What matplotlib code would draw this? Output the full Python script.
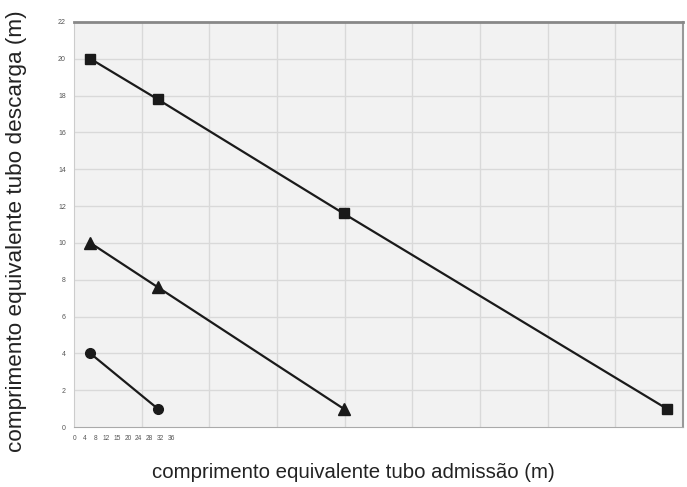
import numpy as np
import matplotlib.pyplot as plt

plt.rcParams['font.family'] = ['Liberation Sans', 'DejaVu Sans']

# data
x_quad = [6, 31, 100, 220]
y_quad = [20, 17.8, 11.6, 1]
x_tri = [6, 31, 100]
y_tri = [10, 7.6, 1]
x_circ = [6, 31]
y_circ = [4, 1]

xtick_pos = [0, 4, 8, 12, 16, 20, 24, 28, 32, 36]
xtick_lab = ['0', '4', '8', '12', '15', '20', '24', '28', '32', '36']
yticks = np.arange(0, 23, 2)

fig = plt.figure(figsize=(6.87, 4.87), dpi=100)
ax = fig.add_axes([0.108, 0.123, 0.886, 0.832])
ax.set_facecolor('#f2f2f2')

xmax = 226
for gx in np.linspace(0, xmax, 10)[1:-1]:
    ax.axvline(gx, color='#d9d9d9', lw=1, zorder=0)
for gy in yticks[1:-1]:
    ax.axhline(gy, color='#d9d9d9', lw=1, zorder=0)

kw = dict(color='#1a1a1a', lw=1.6, zorder=3)
ax.plot(x_quad, y_quad, marker='s', ms=7, **kw)
ax.plot(x_tri, y_tri, marker='^', ms=8, **kw)
ax.plot(x_circ, y_circ, marker='o', ms=7, **kw)

ax.set_xlim(0, xmax)
ax.set_ylim(0, 22)
ax.set_xticks(xtick_pos)
ax.set_xticklabels(xtick_lab, fontsize=4.8, color='#555555')
ax.set_yticks(yticks)
ax.set_yticklabels([str(v) for v in yticks], fontsize=5, color='#555555')
ax.tick_params(length=0, pad=6)

ax.spines['top'].set_color('#888888')
ax.spines['top'].set_linewidth(2)
ax.spines['right'].set_color('#999999')
ax.spines['right'].set_linewidth(1.5)
ax.spines['bottom'].set_color('#aaaaaa')
ax.spines['left'].set_color('#cccccc')

fig.text(0.514, 0.029, 'comprimento equivalente tubo admissão (m)', fontsize=14.7,
         ha='center', va='center', color='#222222')
fig.text(0.024, 0.526, 'comprimento equivalente tubo descarga (m)', fontsize=16.2,
         ha='center', va='center', rotation=90, color='#222222')

plt.savefig('out.png', dpi=100)
